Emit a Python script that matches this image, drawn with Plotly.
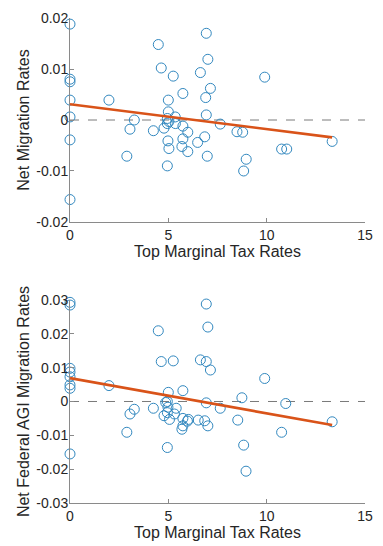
import plotly.graph_objects as go

# Net migration rates vs. top marginal tax rate (one point per state)
net_tax = [0, 0, 0, 0, 0, 0, 0,
           1.98, 4.49, 4.64, 5.25, 5.0, 5.74, 5.0, 5.35, 4.95, 6.63, 6.93, 7.01,
           7.14, 6.9, 6.93, 3.27, 9.9, 3.05, 2.89, 4.24, 4.78, 4.95, 5.03, 5.36,
           5.74, 4.98, 5.03, 4.95, 5.74, 5.99, 5.69, 5.99, 6.49, 6.85, 6.98,
           7.64, 8.49, 8.78, 8.96, 8.83, 10.76, 11.02, 13.33]
net_rate = [0.0188, 0.0080, 0.0075, 0.0039, 0.0006, -0.0039, -0.0156,
            0.0039, 0.0148, 0.0102, 0.0086, 0.0039, 0.0052, 0.0016, 0.0006, 0.0003, 0.0093, 0.0170, 0.0119,
            0.0062, 0.0044, 0.0010, 0.0000, 0.0084, -0.0018, -0.0071, -0.0021, -0.0016, -0.0007, -0.0003, -0.0007,
            -0.0012, -0.0041, -0.0056, -0.0090, -0.0037, -0.0024, -0.0052, -0.0062, -0.0044, -0.0033, -0.0071,
            -0.0008, -0.0023, -0.0024, -0.0077, -0.0100, -0.0057, -0.0057, -0.0042]
net_fit = {"intercept": 0.0031, "slope": -0.000488}

# Net federal AGI migration rates vs. top marginal tax rate
agi_tax = [0, 0, 0, 0, 0, 0, 0, 0,
           1.98, 4.49, 4.64, 5.25, 5.0, 5.74, 4.95, 6.93, 7.01, 6.63, 6.93, 7.14,
           6.93, 9.9, 8.74, 10.97, 2.89, 3.05, 3.27, 4.24, 4.78, 4.87, 4.98, 4.95,
           5.06, 4.95, 5.40, 5.31, 5.74, 5.74, 5.69, 6.02, 5.97, 6.52, 6.85, 7.01,
           7.64, 8.53, 8.83, 8.95, 10.76, 13.33]
agi_rate = [0.0293, 0.0285, 0.0098, 0.0087, 0.0073, 0.0049, 0.0039, -0.0155,
            0.0047, 0.0209, 0.0118, 0.0120, 0.0027, 0.0032, 0.0000, 0.0288, 0.0220, 0.0123, 0.0118, 0.0093,
            -0.0004, 0.0068, 0.0011, -0.0006, -0.0091, -0.0037, -0.0023, -0.0020, -0.0042, -0.0003, -0.0017, -0.0033,
            -0.0053, -0.0136, -0.0020, -0.0037, -0.0050, -0.0072, -0.0082, -0.0053, -0.0058, -0.0055, -0.0057, -0.0072,
            -0.0020, -0.0055, -0.0129, -0.0206, -0.0091, -0.0060]
agi_fit = {"intercept": 0.0069, "slope": -0.00104}

x_ticks = [0, 5, 10, 15]
x_labels = ["0", "5", "10", "15"]
net_ticks = [-0.02, -0.01, 0, 0.01, 0.02]
net_labels = ["-0.02", "-0.01", "0", "0.01", "0.02"]
agi_ticks = [-0.03, -0.02, -0.01, 0, 0.01, 0.02, 0.03]
agi_labels = ["-0.03", "-0.02", "-0.01", "0", "0.01", "0.02", "0.03"]

x_title = "Top Marginal Tax Rates"
net_title = "Net Migration Rates"
agi_title = "Net Federal AGI Migration Rates"

BLUE = "#3288bf"
ORANGE = "#D95319"
AXIS = "#8a8a8a"
TEXT = "#262626"
FONT = "Liberation Sans"

fig = go.Figure()


def add_panel(xs, ys, fit, xa, ya):
    # zero reference line
    fig.add_trace(go.Scatter(x=[x_ticks[0], x_ticks[-1]], y=[0, 0], mode="lines",
                             line=dict(color="#7a7a7a", width=1, dash="dash"),
                             xaxis=xa, yaxis=ya, showlegend=False, hoverinfo="skip"))
    fig.add_trace(go.Scatter(x=xs, y=ys, mode="markers",
                             marker=dict(symbol="circle-open", size=10, color=BLUE,
                                         line=dict(width=1, color=BLUE)),
                             xaxis=xa, yaxis=ya, showlegend=False, cliponaxis=False))
    x0, x1 = min(xs), max(xs)
    fig.add_trace(go.Scatter(x=[x0, x1],
                             y=[fit["intercept"] + fit["slope"] * x0,
                                fit["intercept"] + fit["slope"] * x1],
                             mode="lines", line=dict(color=ORANGE, width=2.6),
                             xaxis=xa, yaxis=ya, showlegend=False, cliponaxis=False))


add_panel(net_tax, net_rate, net_fit, "x", "y")
add_panel(agi_tax, agi_rate, agi_fit, "x2", "y2")

xaxis_common = dict(range=[0, 15], tickvals=x_ticks, ticktext=x_labels,
                    showline=True, linecolor=AXIS, linewidth=1, mirror=False,
                    ticks="inside", ticklen=4, tickcolor=AXIS, showgrid=False,
                    zeroline=False, tickfont=dict(family=FONT, size=14, color=TEXT),
                    title=dict(text=x_title, font=dict(family=FONT, size=16, color=TEXT),
                               standoff=0))
yaxis_common = dict(showline=True, linecolor=AXIS, linewidth=1, mirror=False,
                    ticks="inside", ticklen=4, tickcolor=AXIS, showgrid=False,
                    zeroline=False, tickfont=dict(family=FONT, size=14, color=TEXT),
                    ticklabelstandoff=-2)

fig.update_layout(
    width=383, height=546,
    margin=dict(l=70, r=10, t=18, b=43),
    paper_bgcolor="white", plot_bgcolor="white",
    xaxis=dict(domain=[0, 1], anchor="y", **xaxis_common),
    yaxis=dict(domain=[0.5794, 1.0], anchor="x", range=[-0.02, 0.02],
               tickvals=net_ticks, ticktext=net_labels,
               title=dict(text=net_title, font=dict(family=FONT, size=16, color=TEXT), standoff=2),
               **yaxis_common),
    xaxis2=dict(domain=[0, 1], anchor="y2", **xaxis_common),
    yaxis2=dict(domain=[0.0, 0.4186], anchor="x2", range=[-0.03, 0.03],
                tickvals=agi_ticks, ticktext=agi_labels,
                title=dict(text=agi_title, font=dict(family=FONT, size=16, color=TEXT), standoff=2),
                **yaxis_common),
)

fig.write_html("out.html")
